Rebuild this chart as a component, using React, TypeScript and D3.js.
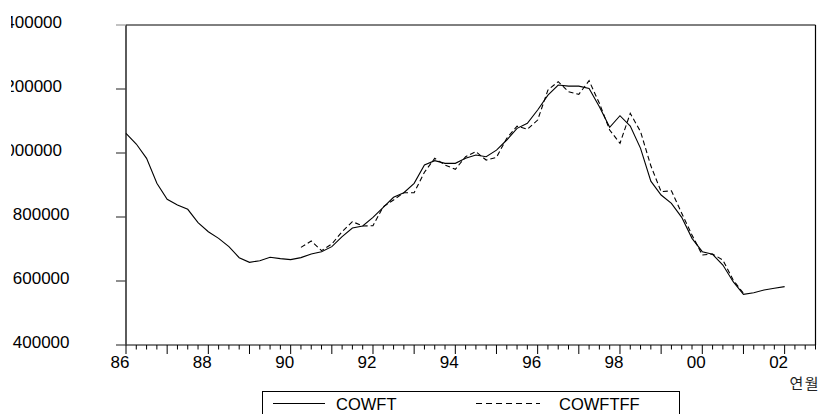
import { useEffect, useRef } from "react";
import * as d3 from "d3";

// quarterly observations, 1986Q1 .. 2002Q4 on the axis
const START_YEAR = 86;
const N_QUARTERS = 68;

const COWFT = [
  1061500, 1028000, 983400, 905300, 855200, 837500, 824000, 782300,
  754000, 733300, 707300, 672900, 658300, 663500, 674000, 669800,
  666700, 673000, 684400, 691600, 707300, 738500, 765600, 771900,
  799000, 830200, 861500, 876000, 905200, 962500, 976000, 967700,
  967700, 983300, 993700, 988500, 1009000, 1040600, 1077000, 1092700,
  1134400, 1181000, 1212500, 1209000, 1209000, 1202000, 1144800, 1080300,
  1116600, 1084400, 1014600, 912000, 868750, 842800, 799000, 733300,
  691600, 683400, 650000, 597900, 558300, 563500, 571900, 577100,
  582300,
];

// fitted series starts at 1990Q2 (index 17)
const COWFTFF_START = 17;
const COWFTFF = [
  705000, 725000, 694800, 715600, 754000, 785400, 771900, 772900,
  832300, 853100, 876000, 876000, 940000, 983300, 962500, 949000,
  988500, 1004000, 978000, 986500, 1046000, 1084000, 1074000, 1103000,
  1197000, 1222900, 1191500, 1183300, 1226000, 1155200, 1071900, 1030200,
  1124000, 1066700, 960000, 879000, 882000, 811500, 743750, 681250,
  684400, 665600, 603000, 561500,
];

const Y_TICKS = [400000, 600000, 800000, 1000000, 1200000, 1400000];
const LEGEND = ["COWFT", "COWFTFF"];
const X_TITLE = "연월";

const FONT = "'Liberation Sans', Arial, sans-serif";

export default function App() {
  const svgRef = useRef<SVGSVGElement>(null);

  useEffect(() => {
    if (!svgRef.current) return;
    const W = 822, H = 414;
    const L = 126, R = 815.5, T = 25, B = 345;

    d3.select(svgRef.current).selectAll("*").remove();
    const svg = d3.select(svgRef.current).attr("width", W).attr("height", H);

    const x = d3.scaleLinear().domain([0, N_QUARTERS - 1]).range([L, R]);
    const y = d3.scaleLinear().domain([400000, 1400000]).range([B, T]);

    // the original is cropped on the left, cutting into the long labels
    svg.append("defs").append("clipPath").attr("id", "lblclip")
      .append("rect").attr("x", 11).attr("y", 0).attr("width", W).attr("height", H);

    // frame
    svg.append("line").attr("x1", L).attr("x2", R).attr("y1", T).attr("y2", T)
      .attr("stroke", "#000").attr("stroke-width", 1);
    svg.append("line").attr("x1", R).attr("x2", R).attr("y1", T).attr("y2", B)
      .attr("stroke", "#000").attr("stroke-width", 1.2);
    svg.append("line").attr("x1", L).attr("x2", R).attr("y1", B).attr("y2", B)
      .attr("stroke", "#000").attr("stroke-width", 1);
    svg.append("line").attr("x1", L).attr("x2", L).attr("y1", T).attr("y2", B)
      .attr("stroke", "#333").attr("stroke-width", 1.6);

    // y axis
    svg.append("g").selectAll("line").data(Y_TICKS).join("line")
      .attr("x1", L - 10).attr("x2", L)
      .attr("y1", (d) => y(d)).attr("y2", (d) => y(d))
      .attr("stroke", (d) => (d === 1400000 ? "#999" : "#444"))
      .attr("stroke-width", 1.2);

    svg.append("g").attr("clip-path", "url(#lblclip)")
      .selectAll("text").data(Y_TICKS).join("text")
      // 7-digit labels sit a little further left in the source
      .attr("x", (d) => (d >= 1000000 ? 62 : 69.5))
      .attr("y", (d) => y(d) - 3)
      .attr("dy", "0.35em")
      .attr("text-anchor", "end")
      .attr("font-family", FONT).attr("font-size", 17).attr("fill", "#000")
      .text((d) => String(d));

    // x axis: quarterly minor ticks, yearly major ticks
    const quarters = d3.range(N_QUARTERS);
    svg.append("g").selectAll("line").data(quarters).join("line")
      .attr("x1", (d) => x(d)).attr("x2", (d) => x(d))
      .attr("y1", B).attr("y2", (d) => (d % 4 === 0 ? B + 9 : B + 4.5))
      .attr("stroke", "#000").attr("stroke-width", 1);

    const labelQ = quarters.filter((q) => q % 8 === 0);
    svg.append("g").selectAll("text").data(labelQ).join("text")
      .attr("x", (d) => x(d) - 6)
      .attr("y", 368)
      .attr("text-anchor", "middle")
      .attr("font-family", FONT).attr("font-size", 17).attr("fill", "#000")
      .text((d) => String((START_YEAR + d / 4) % 100).padStart(2, "0"));

    svg.append("text")
      .attr("x", 820).attr("y", 389)
      .attr("text-anchor", "end")
      .attr("font-family", "'Noto Sans CJK KR', sans-serif")
      .attr("font-size", 15).attr("letter-spacing", 1.5).attr("fill", "#222")
      .text(X_TITLE);

    // series
    const line = d3.line<[number, number]>().x((d) => x(d[0])).y((d) => y(d[1]));
    const solid: [number, number][] = COWFT.map((v, i) => [i, v]);
    const fitted: [number, number][] = COWFTFF.map((v, i) => [i + COWFTFF_START, v]);

    svg.append("path").attr("d", line(solid))
      .attr("fill", "none").attr("stroke", "#000").attr("stroke-width", 1.1);
    svg.append("path").attr("d", line(fitted))
      .attr("fill", "none").attr("stroke", "#000").attr("stroke-width", 1.1)
      .attr("stroke-dasharray", "5,3");

    // legend (runs off the bottom edge like the source)
    const lg = svg.append("g");
    lg.append("rect").attr("x", 262.5).attr("y", 391.5).attr("width", 417).attr("height", 40)
      .attr("fill", "none").attr("stroke", "#000").attr("stroke-width", 1);
    lg.append("line").attr("x1", 273).attr("x2", 325).attr("y1", 403.5).attr("y2", 403.5)
      .attr("stroke", "#000").attr("stroke-width", 1);
    lg.append("line").attr("x1", 476).attr("x2", 540).attr("y1", 403.5).attr("y2", 403.5)
      .attr("stroke", "#000").attr("stroke-width", 1).attr("stroke-dasharray", "6,4");
    lg.selectAll("text").data(LEGEND).join("text")
      .attr("x", (_, i) => (i === 0 ? 336 : 559))
      .attr("y", 409.5)
      .attr("font-family", FONT).attr("font-size", 16.5).attr("fill", "#000")
      .text((d) => d);
  }, []);

  return (
    <div style={{ position: "fixed", left: 0, top: 0, background: "#fff" }}>
      <svg ref={svgRef} style={{ display: "block" }} />
    </div>
  );
}
